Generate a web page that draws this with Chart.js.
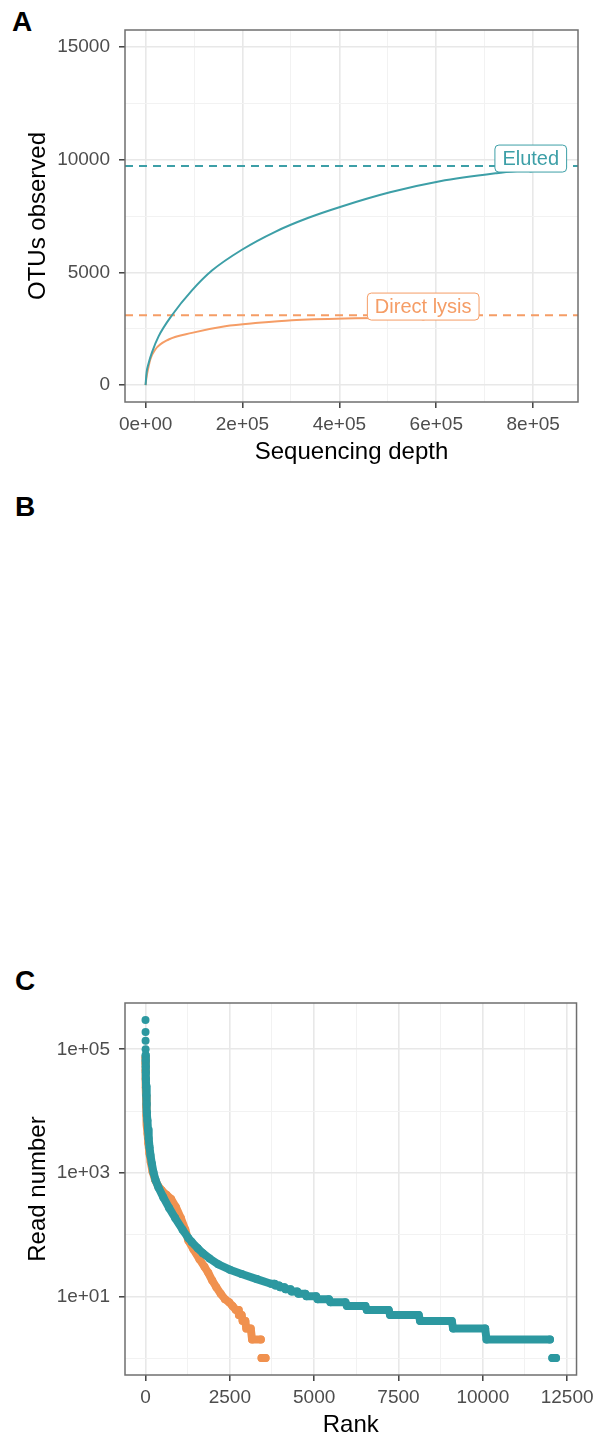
<!DOCTYPE html>
<html lang="en">
<head>
<meta charset="UTF-8">
<title>Rarefaction and rank abundance</title>
<script src="https://cdn.jsdelivr.net/npm/chart.js"></script>
<style>
    body { margin: 0; background: #fff; }
    #page { position: relative; width: 599px; height: 1442px; overflow: hidden; font-family: "Liberation Sans", Arial, sans-serif; }
    .tag { position: absolute; font-weight: bold; font-size: 28px; line-height: 28px; color: #000; }
    .panel { position: absolute; left: 0; width: 599px; height: 469px; }
</style>
</head>
<body>
<div id="page">
    <div class="tag" style="left:12px; top:8px;">A</div>
    <div class="tag" style="left:15px; top:493px;">B</div>
    <div class="tag" style="left:15px; top:967px;">C</div>
    <div class="panel" style="top:0px;"><canvas id="chartA" width="599" height="469"></canvas></div>
    <div class="panel" style="top:973px;"><canvas id="chartC" width="599" height="469"></canvas></div>
</div>

<script>
    // Panel A: rarefaction curves
    const seriesNames = ['Eluted', 'Direct lysis'];
    const depthEluted = [0, 2000, 6000, 13200, 26800, 54400, 95700, 136900, 198800, 267400, 336100, 401400, 504500, 607600, 724500, 795000];
    const otusEluted = [0, 550, 950, 1450, 2160, 3097, 4200, 5080, 6004, 6800, 7420, 7900, 8550, 9040, 9400, 9560];
    const depthLysis = [0, 1500, 5000, 9700, 20000, 47400, 95700, 164300, 233000, 301900, 432400, 500000, 573000];
    const otusLysis = [0, 300, 700, 1137, 1580, 2022, 2317, 2611, 2761, 2876, 2960, 2980, 2995];
    const asymptoteEluted = 9720;
    const asymptoteLysis = 3100;

    const aXTicks = [0, 200000, 400000, 600000, 800000];
    const aXTickLabels = ['0e+00', '2e+05', '4e+05', '6e+05', '8e+05'];
    const aXMinor = [100000, 300000, 500000, 700000];
    const aYTicks = [0, 5000, 10000, 15000];
    const aYTickLabels = ['0', '5000', '10000', '15000'];
    const aYMinor = [2500, 7500, 12500];

    // Panel C: rank abundance
    const rankElutedTop = [1, 2, 3, 4];
    const readsElutedTop = [299000, 190000, 137000, 100000];
    const rankEluted = [5, 6, 8, 11, 15, 20, 27, 35, 45, 58, 75, 95, 120, 150, 190, 240, 300, 385, 530, 700,
        880, 1100, 1270, 1370, 1550, 1700, 1900, 2160, 2500, 2850, 3300, 3720, 3830, 3850, 3960, 3990, 4120, 4150, 4300, 4330,
        4500, 4530, 4740, 4770, 5060, 5100, 5440, 5480, 5930, 5970, 6520, 6560, 7210, 7250, 8100, 8140, 9080, 9120, 10070, 10110,
        11990, 12060, 12170];
    const readsEluted = [80000, 66000, 52000, 42000, 33000, 25000, 18000, 13000, 9500, 7000, 5000, 3600, 2600, 1900, 1400, 1000, 760, 580, 400, 270,
        185, 120, 88, 76, 60, 50, 41, 33, 27, 23, 19, 16, 16, 15, 15, 14, 14, 13, 13, 12,
        12, 11, 11, 10, 10, 9, 9, 8, 8, 7, 7, 6, 6, 5, 5, 4, 4, 3, 3, 2,
        2, 1, 1];
    const rankLysis = [1, 2, 4, 7, 11, 16, 23, 32, 45, 62, 85, 115, 155, 210, 280, 370, 480, 620, 760, 900,
        1050, 1180, 1271, 1420, 1600, 1750, 1862, 1980, 2100, 2230, 2355, 2480, 2580, 2680, 2750, 2770, 2850, 2880, 2960, 2990,
        3120, 3160, 3420, 3440, 3560];
    const readsLysis = [74000, 60000, 45000, 33000, 24000, 17000, 12000, 8500, 6000, 4300, 3000, 2100, 1500, 1050, 780, 620, 520, 440, 376, 280,
        185, 120, 80, 58, 40, 30, 24, 18, 14, 11, 9, 8, 7, 6, 6, 5, 5, 4, 4, 3,
        3, 2, 2, 1, 1];

    const cXTicks = [0, 2500, 5000, 7500, 10000, 12500];
    const cXTickLabels = ['0', '2500', '5000', '7500', '10000', '12500'];
    const cXMinor = [1250, 3750, 6250, 8750, 11250];
    const cYTicks = [10, 1000, 100000];
    const cYTickLabels = ['1e+01', '1e+03', '1e+05'];
    const cYMinor = [1, 100, 10000];

    const FONT = '"Liberation Sans", Arial, sans-serif';
    Chart.defaults.font.family = FONT;

    const tealA = '#3d9fa7', orangeA = '#f59d66';
    const tealC = '#2c98a0', orangeC = '#f0914f';

    function pts(xs, ys) {
        return xs.map((x, i) => ({ x: x, y: ys[i] }));
    }

    // ggplot-like axis: major + minor grid, labels only on majors
    function axis(title, type, min, max, majors, labels, minors, isY) {
        const isMajor = c => c.tick && majors.includes(c.tick.value);
        return {
            type: type,
            min: min,
            max: max,
            afterBuildTicks: s => {
                s.ticks = majors.concat(minors).sort((a, b) => a - b).map(v => ({ value: v }));
            },
            afterFit: s => {
                if (isY) s.width = 125; else s.height = 67;
            },
            ticks: {
                autoSkip: false,
                maxRotation: 0,
                minRotation: 0,
                padding: isY ? 9 : 5,
                color: '#4d4d4d',
                font: { size: 19 },
                callback: v => {
                    const i = majors.indexOf(v);
                    return i < 0 ? '' : labels[i];
                }
            },
            grid: {
                color: c => isMajor(c) ? '#e8e8e8' : '#f2f2f2',
                lineWidth: c => isMajor(c) ? 1.6 : 1,
                tickColor: c => isMajor(c) ? '#333333' : 'rgba(0,0,0,0)',
                tickWidth: 1.4,
                tickLength: 6
            },
            border: { display: false },
            title: {
                display: true,
                text: title,
                color: '#000',
                font: { size: 24 },
                padding: isY ? { top: 24, bottom: 0 } : { top: 0, bottom: 2.6 }
            }
        };
    }

    // panel border drawn over the data
    const panelFrame = {
        id: 'panelFrame',
        afterDatasetsDraw(chart) {
            const a = chart.chartArea, ctx = chart.ctx;
            ctx.save();
            ctx.strokeStyle = '#6f6f6f';
            ctx.lineWidth = 1.5;
            ctx.strokeRect(a.left, a.top, a.right - a.left, a.bottom - a.top);
            ctx.restore();
        }
    };

    // boxed labels at the end of each rarefaction curve
    const curveLabels = {
        id: 'curveLabels',
        afterDatasetsDraw(chart) {
            const ctx = chart.ctx, xs = chart.scales.x, ys = chart.scales.y;
            const items = [
                { text: seriesNames[0], color: tealA, x: depthEluted[depthEluted.length - 1], y: otusEluted[otusEluted.length - 1] },
                { text: seriesNames[1], color: orangeA, x: depthLysis[depthLysis.length - 1], y: otusLysis[otusLysis.length - 1] }
            ];
            ctx.save();
            ctx.font = '20px ' + FONT;
            items.forEach(it => {
                const px = xs.getPixelForValue(it.x), py = ys.getPixelForValue(it.y);
                const w = ctx.measureText(it.text).width + 15, h = 27;
                const left = px - w / 2, top = py + 2.5 - h;
                ctx.beginPath();
                ctx.roundRect(left, top, w, h, 4);
                ctx.fillStyle = '#fff';
                ctx.fill();
                ctx.strokeStyle = it.color;
                ctx.lineWidth = 1;
                ctx.stroke();
                ctx.fillStyle = it.color;
                ctx.textAlign = 'center';
                ctx.textBaseline = 'middle';
                ctx.fillText(it.text, px, top + h / 2 + 1);
            });
            ctx.restore();
        }
    };

    const aXMin = -42500, aXMax = 892500;

    new Chart(document.getElementById('chartA'), {
        type: 'scatter',
        data: {
            datasets: [
                {
                    label: seriesNames[0],
                    data: pts(depthEluted, otusEluted),
                    showLine: true,
                    borderColor: tealA,
                    borderWidth: 2,
                    cubicInterpolationMode: 'monotone',
                    pointRadius: c => c.dataIndex === depthEluted.length - 1 ? 3 : 0,
                    pointBackgroundColor: tealA,
                    pointBorderWidth: 0,
                    order: 0
                },
                {
                    label: seriesNames[1],
                    data: pts(depthLysis, otusLysis),
                    showLine: true,
                    borderColor: orangeA,
                    borderWidth: 2,
                    cubicInterpolationMode: 'monotone',
                    pointRadius: c => c.dataIndex === depthLysis.length - 1 ? 3 : 0,
                    pointBackgroundColor: orangeA,
                    pointBorderWidth: 0,
                    order: 1
                },
                {
                    data: pts([aXMin, aXMax], [asymptoteEluted, asymptoteEluted]),
                    showLine: true,
                    borderColor: tealA,
                    borderWidth: 2,
                    borderDash: [8, 6],
                    pointRadius: 0,
                    order: 2
                },
                {
                    data: pts([aXMin, aXMax], [asymptoteLysis, asymptoteLysis]),
                    showLine: true,
                    borderColor: orangeA,
                    borderWidth: 2,
                    borderDash: [8, 6],
                    pointRadius: 0,
                    order: 3
                }
            ]
        },
        options: {
            responsive: false,
            animation: false,
            layout: { padding: { top: 30, right: 21, left: 0, bottom: 0 } },
            plugins: { legend: { display: false }, tooltip: { enabled: false } },
            scales: {
                x: axis('Sequencing depth', 'linear', aXMin, aXMax, aXTicks, aXTickLabels, aXMinor, false),
                y: axis('OTUs observed', 'linear', -750, 15750, aYTicks, aYTickLabels, aYMinor, true)
            }
        },
        plugins: [panelFrame, curveLabels]
    });

    // hide the join where a series jumps a whole step (e.g. 2 reads -> 1 read)
    const bandSegment = color => ({
        borderColor: c => Math.abs(c.p1.y - c.p0.y) > 15 ? 'rgba(0,0,0,0)' : color
    });

    new Chart(document.getElementById('chartC'), {
        type: 'scatter',
        data: {
            datasets: [
                {
                    label: seriesNames[0],
                    data: pts(rankElutedTop, readsElutedTop),
                    pointRadius: 4,
                    pointBorderWidth: 0,
                    pointBackgroundColor: tealC,
                    order: 0
                },
                {
                    label: seriesNames[0],
                    data: pts(rankEluted, readsEluted),
                    showLine: true,
                    borderColor: tealC,
                    borderWidth: 8,
                    borderCapStyle: 'round',
                    borderJoinStyle: 'round',
                    segment: bandSegment(tealC),
                    pointRadius: 4,
                    pointBorderWidth: 0,
                    pointBackgroundColor: tealC,
                    order: 1
                },
                {
                    label: seriesNames[1],
                    data: pts(rankLysis, readsLysis),
                    showLine: true,
                    borderColor: orangeC,
                    borderWidth: 8,
                    borderCapStyle: 'round',
                    borderJoinStyle: 'round',
                    segment: bandSegment(orangeC),
                    pointRadius: 4,
                    pointBorderWidth: 0,
                    pointBackgroundColor: orangeC,
                    order: 2
                }
            ]
        },
        options: {
            responsive: false,
            animation: false,
            layout: { padding: { top: 30, right: 21, left: 0, bottom: 0 } },
            plugins: { legend: { display: false }, tooltip: { enabled: false } },
            scales: {
                x: axis('Rank', 'linear', -607, 12778, cXTicks, cXTickLabels, cXMinor, false),
                y: axis('Read number', 'logarithmic', 0.532, 562000, cYTicks, cYTickLabels, cYMinor, true)
            }
        },
        plugins: [panelFrame]
    });
</script>
</body>
</html>
